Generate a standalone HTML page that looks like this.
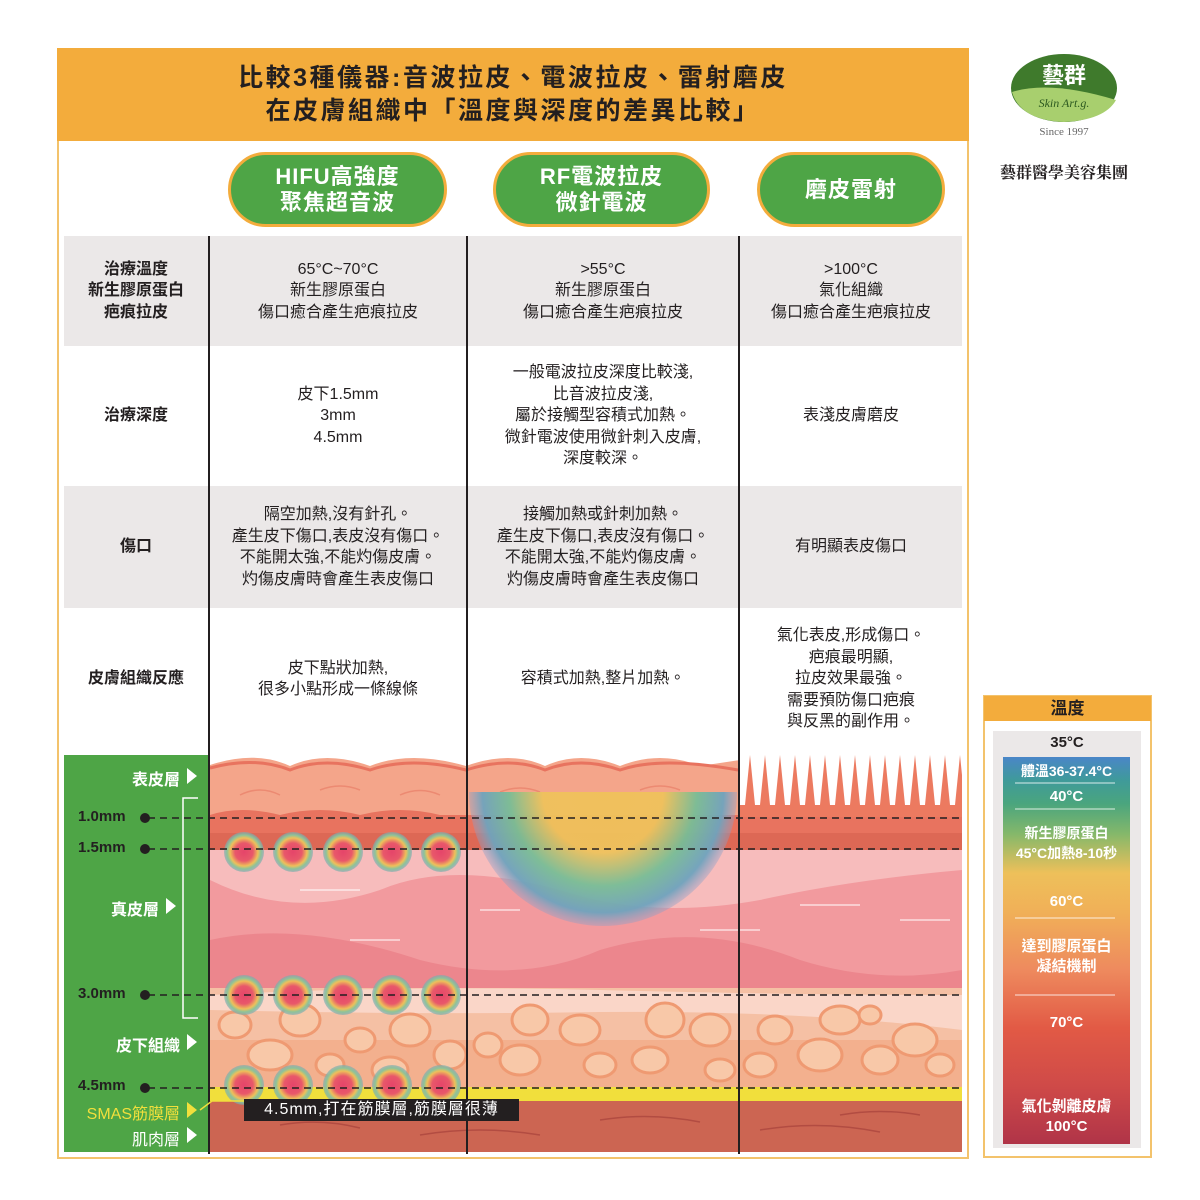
<!DOCTYPE html>
<html><head><meta charset="utf-8"><style>
*{margin:0;padding:0;box-sizing:border-box}
body{width:1200px;height:1200px;background:#fff;position:relative;overflow:hidden;font-family:"Liberation Sans","Noto Sans CJK TC",sans-serif;color:#231f20}
.a{position:absolute}
.c{text-align:center}
.t{font-size:16px;line-height:21.5px;display:flex;align-items:center;justify-content:center;text-align:center}
.lbl{font-weight:bold;font-size:16px;line-height:21.5px}
.pill{position:absolute;background:#4ea546;border:3px solid #f3ac3c;border-radius:40px;color:#fff;font-weight:bold;font-size:22px;line-height:26px;display:flex;align-items:center;justify-content:center;text-align:center;letter-spacing:1px}
.gl{color:#fff;font-weight:bold;font-size:16px;right:1020px;text-align:right;white-space:nowrap}
.mm{color:#231f20;font-size:15px;font-weight:bold;left:78px}
.tw{color:#fff;font-weight:bold;font-size:15px;line-height:20px;width:127px;left:1003px;text-align:center}
</style></head><body>
<div class="a" style="left:57px;top:48px;width:912px;height:1111px;border:2px solid #f3c36c"></div>
<div class="a" style="left:57px;top:48px;width:912px;height:93px;background:#f3ac3c"></div>
<div class="a c" style="left:57px;top:62px;width:912px;font-size:25px;font-weight:bold;line-height:33px;letter-spacing:2.5px">比較3種儀器:音波拉皮、電波拉皮、雷射磨皮<br>在皮膚組織中「溫度與深度的差異比較」</div>

<div class="pill" style="left:228px;top:152px;width:219px;height:75px">HIFU高強度<br>聚焦超音波</div>
<div class="pill" style="left:493px;top:152px;width:217px;height:75px">RF電波拉皮<br>微針電波</div>
<div class="pill" style="left:757px;top:152px;width:188px;height:75px">磨皮雷射</div>

<div class="a" style="left:64px;top:236px;width:898px;height:110px;background:#ebe8e8"></div>
<div class="a" style="left:64px;top:486px;width:898px;height:122px;background:#ebe8e8"></div>
<div class="a" style="left:208px;top:236px;width:2px;height:918px;background:#231f20"></div>
<div class="a" style="left:466px;top:236px;width:2px;height:918px;background:#231f20"></div>
<div class="a" style="left:738px;top:236px;width:2px;height:918px;background:#231f20"></div>

<div class="a t lbl" style="left:64px;top:236px;width:144px;height:110px">治療溫度<br>新生膠原蛋白<br>疤痕拉皮</div>
<div class="a t" style="left:210px;top:236px;width:256px;height:110px">65°C~70°C<br>新生膠原蛋白<br>傷口癒合產生疤痕拉皮</div>
<div class="a t" style="left:468px;top:236px;width:270px;height:110px">&gt;55°C<br>新生膠原蛋白<br>傷口癒合產生疤痕拉皮</div>
<div class="a t" style="left:740px;top:236px;width:222px;height:110px">&gt;100°C<br>氣化組織<br>傷口癒合產生疤痕拉皮</div>
<div class="a t lbl" style="left:64px;top:346px;width:144px;height:140px">治療深度</div>
<div class="a t" style="left:210px;top:346px;width:256px;height:140px">皮下1.5mm<br>3mm<br>4.5mm</div>
<div class="a t" style="left:468px;top:346px;width:270px;height:140px">一般電波拉皮深度比較淺,<br>比音波拉皮淺,<br>屬於接觸型容積式加熱。<br>微針電波使用微針刺入皮膚,<br>深度較深。</div>
<div class="a t" style="left:740px;top:346px;width:222px;height:140px">表淺皮膚磨皮</div>
<div class="a t lbl" style="left:64px;top:486px;width:144px;height:122px">傷口</div>
<div class="a t" style="left:210px;top:486px;width:256px;height:122px;white-space:nowrap">隔空加熱,沒有針孔。<br>產生皮下傷口,表皮沒有傷口。<br>不能開太強,不能灼傷皮膚。<br>灼傷皮膚時會產生表皮傷口</div>
<div class="a t" style="left:468px;top:486px;width:270px;height:122px;white-space:nowrap">接觸加熱或針刺加熱。<br>產生皮下傷口,表皮沒有傷口。<br>不能開太強,不能灼傷皮膚。<br>灼傷皮膚時會產生表皮傷口</div>
<div class="a t" style="left:740px;top:486px;width:222px;height:122px">有明顯表皮傷口</div>
<div class="a t lbl" style="left:64px;top:608px;width:144px;height:142px">皮膚組織反應</div>
<div class="a t" style="left:210px;top:608px;width:256px;height:142px">皮下點狀加熱,<br>很多小點形成一條線條</div>
<div class="a t" style="left:468px;top:608px;width:270px;height:142px">容積式加熱,整片加熱。</div>
<div class="a t" style="left:740px;top:608px;width:222px;height:142px">氣化表皮,形成傷口。<br>疤痕最明顯,<br>拉皮效果最強。<br>需要預防傷口疤痕<br>與反黑的副作用。</div>

<svg class="a" style="left:0;top:0" width="1200" height="1200">
<defs>
<radialGradient id="hs"><stop offset="0" stop-color="#e5456a"/><stop offset="0.45" stop-color="#e8586a"/><stop offset="0.7" stop-color="#eec05a"/><stop offset="0.85" stop-color="#8cc39a"/><stop offset="1" stop-color="#7aaab0" stop-opacity="0.6"/></radialGradient>
<radialGradient id="rf" gradientUnits="userSpaceOnUse" cx="603" cy="792" r="134"><stop offset="0" stop-color="#f0c15a"/><stop offset="0.45" stop-color="#efc25c"/><stop offset="0.7" stop-color="#78bd96"/><stop offset="0.9" stop-color="#6fa3bd"/><stop offset="1" stop-color="#8aa0c8" stop-opacity="0.4"/></radialGradient>
<linearGradient id="tb" x1="0" y1="0" x2="0" y2="1"><stop offset="0" stop-color="#4a86c8"/><stop offset="0.06" stop-color="#3f9a9a"/><stop offset="0.12" stop-color="#4aa57e"/><stop offset="0.2" stop-color="#86b86a"/><stop offset="0.3" stop-color="#eec05a"/><stop offset="0.4" stop-color="#f0b058"/><stop offset="0.55" stop-color="#ee8a5e"/><stop offset="0.7" stop-color="#e25a45"/><stop offset="0.85" stop-color="#cf4a48"/><stop offset="1" stop-color="#b03448"/></linearGradient>
<clipPath id="sk"><rect x="210" y="755" width="752" height="397"/></clipPath>
<clipPath id="rfc"><rect x="468" y="792" width="270" height="200"/></clipPath>
</defs>
<rect x="64" y="755" width="145" height="397" fill="#4ea546"/>
<g clip-path="url(#sk)">
<rect x="210" y="755" width="752" height="397" fill="#f4a58a"/>
<path d="M210 765 Q255 750 290 766 Q325 750 370 766 Q410 750 466 766 Q510 750 545 766 Q580 750 620 766 Q660 750 700 766 L740 760 L740 755 L210 755Z" fill="#fff"/>
<path d="M210 768 Q255 756 290 770 Q325 756 370 770 Q410 756 466 770 Q510 756 545 770 Q580 756 620 770 Q660 756 738 770" fill="none" stroke="#e8735f" stroke-width="3"/>
<g stroke="#ec8a72" stroke-width="1.5" fill="none"><path d="M240 795 Q260 785 280 795"/><path d="M320 790 Q340 782 360 790"/><path d="M400 795 Q420 786 440 795"/><path d="M500 792 Q520 784 540 792"/><path d="M640 790 Q660 782 680 790"/></g>
<path d="M210 815 Q240 805 280 815 Q320 805 360 815 Q400 805 440 815 L962 815 L962 835 L210 835Z" fill="#e8735f"/>
<rect x="210" y="833" width="752" height="17" fill="#dd6855"/>
<rect x="210" y="850" width="752" height="145" fill="#f29a9e"/>
<path d="M210 850 L962 850 L962 870 Q850 880 760 900 Q650 920 560 890 Q450 860 380 890 Q290 920 210 880Z" fill="#f7bcbc"/>
<path d="M210 940 Q300 920 420 960 Q520 985 600 950 Q700 920 800 960 Q880 985 962 970 L962 995 L210 995Z" fill="#ec868d"/>
<rect x="210" y="988" width="752" height="100" fill="#f5c0a4"/>
<path d="M210 995 Q400 985 600 990 Q800 995 962 995 L962 1030 Q800 1010 600 1012 Q400 1015 210 1010Z" fill="#fad6c8"/>
<rect x="210" y="1040" width="752" height="48" fill="#f3b08e"/>
<g fill="#f8c8a8" stroke="#ef9a72" stroke-width="3">
<ellipse cx="235" cy="1025" rx="16" ry="13"/><ellipse cx="300" cy="1020" rx="20" ry="16"/><ellipse cx="360" cy="1040" rx="15" ry="12"/><ellipse cx="410" cy="1030" rx="20" ry="16"/><ellipse cx="270" cy="1055" rx="22" ry="15"/><ellipse cx="330" cy="1065" rx="14" ry="11"/><ellipse cx="390" cy="1070" rx="18" ry="13"/><ellipse cx="450" cy="1055" rx="16" ry="14"/>
<ellipse cx="530" cy="1020" rx="18" ry="15"/><ellipse cx="580" cy="1030" rx="20" ry="15"/><ellipse cx="665" cy="1020" rx="19" ry="17"/><ellipse cx="710" cy="1030" rx="20" ry="16"/><ellipse cx="520" cy="1060" rx="20" ry="15"/><ellipse cx="600" cy="1065" rx="16" ry="12"/><ellipse cx="650" cy="1060" rx="18" ry="13"/><ellipse cx="720" cy="1070" rx="15" ry="11"/><ellipse cx="488" cy="1045" rx="14" ry="12"/>
<ellipse cx="775" cy="1030" rx="17" ry="14"/><ellipse cx="840" cy="1020" rx="20" ry="14"/><ellipse cx="870" cy="1015" rx="11" ry="9"/><ellipse cx="915" cy="1040" rx="22" ry="16"/><ellipse cx="760" cy="1065" rx="16" ry="12"/><ellipse cx="820" cy="1055" rx="22" ry="16"/><ellipse cx="880" cy="1060" rx="18" ry="14"/><ellipse cx="940" cy="1065" rx="14" ry="11"/>
</g>
<rect x="210" y="1087" width="752" height="14" fill="#f1df3c"/>
<rect x="210" y="1101" width="752" height="51" fill="#cc6552"/>
<g stroke="#b24c42" stroke-width="1.5" fill="none"><path d="M280 1125 Q320 1118 360 1128"/><path d="M420 1135 Q480 1125 540 1135"/><path d="M600 1120 Q650 1112 700 1122"/><path d="M760 1130 Q820 1120 880 1132"/><path d="M840 1115 Q880 1108 920 1115"/></g>
<g stroke="#fff" stroke-opacity="0.5" stroke-width="2" fill="none"><path d="M300 890 L360 890"/><path d="M480 910 L520 910"/><path d="M800 905 L860 905"/><path d="M900 920 L950 920"/><path d="M350 940 L400 940"/><path d="M700 930 L760 930"/></g>
<g clip-path="url(#rfc)"><circle cx="603" cy="792" r="134" fill="url(#rf)" opacity="0.95"/></g>
<rect x="740" y="755" width="222" height="60" fill="#fff"/>
<g fill="#ec7a60">
<polygon points="744,815 750,755 756,815"/><polygon points="759,815 765,755 771,815"/><polygon points="774,815 780,755 786,815"/><polygon points="789,815 795,755 801,815"/><polygon points="804,815 810,755 816,815"/><polygon points="819,815 825,755 831,815"/><polygon points="834,815 840,755 846,815"/><polygon points="849,815 855,755 861,815"/><polygon points="864,815 870,755 876,815"/><polygon points="879,815 885,755 891,815"/><polygon points="894,815 900,755 906,815"/><polygon points="909,815 915,755 921,815"/><polygon points="924,815 930,755 936,815"/><polygon points="939,815 945,755 951,815"/><polygon points="954,815 960,755 966,815"/>
</g>
<rect x="740" y="805" width="222" height="12" fill="#ec7a60"/>
<g fill="url(#hs)">
<circle cx="244" cy="852" r="20"/><circle cx="293" cy="852" r="20"/><circle cx="343" cy="852" r="20"/><circle cx="392" cy="852" r="20"/><circle cx="441" cy="852" r="20"/>
<circle cx="244" cy="995" r="20"/><circle cx="293" cy="995" r="20"/><circle cx="343" cy="995" r="20"/><circle cx="392" cy="995" r="20"/><circle cx="441" cy="995" r="20"/>
<circle cx="244" cy="1085" r="20"/><circle cx="293" cy="1085" r="20"/><circle cx="343" cy="1085" r="20"/><circle cx="392" cy="1085" r="20"/><circle cx="441" cy="1085" r="20"/>
</g>
</g>
<rect x="208" y="755" width="2" height="397" fill="#231f20"/><rect x="466" y="755" width="2" height="397" fill="#231f20"/><rect x="738" y="755" width="2" height="397" fill="#231f20"/>
<g stroke="#231f20" stroke-width="1.5" stroke-dasharray="7 5">
<line x1="148" y1="818" x2="962" y2="818"/><line x1="148" y1="849" x2="962" y2="849"/><line x1="148" y1="995" x2="962" y2="995"/><line x1="148" y1="1088" x2="962" y2="1088"/>
</g>
<g fill="#231f20"><circle cx="145" cy="818" r="5"/><circle cx="145" cy="849" r="5"/><circle cx="145" cy="995" r="5"/><circle cx="145" cy="1088" r="5"/></g>
<path d="M198 798 L183 798 L183 1018 L198 1018" fill="none" stroke="#fff" stroke-width="1.5"/>
<g fill="#fff"><polygon points="187,768 197,776 187,784"/><polygon points="166,898 176,906 166,914"/><polygon points="187,1034 197,1042 187,1050"/><polygon points="187,1127 197,1135 187,1143"/></g>
<polygon points="187,1102 197,1110 187,1118" fill="#f1df3c"/>
<path d="M200 1110 L212 1101 L245 1101" fill="none" stroke="#f1df3c" stroke-width="1.5"/>
<rect x="984" y="696" width="167" height="461" fill="none" stroke="#f3c36c" stroke-width="2"/>
<rect x="984" y="696" width="167" height="25" fill="#f3ac3c"/>
<rect x="993" y="731" width="148" height="417" fill="#ebe8e8"/>
<rect x="1003" y="757" width="127" height="387" fill="url(#tb)"/>
<g stroke="#fff" stroke-opacity="0.8" stroke-width="1"><line x1="1015" y1="783" x2="1115" y2="783"/><line x1="1015" y1="809" x2="1115" y2="809"/><line x1="1015" y1="918" x2="1115" y2="918"/><line x1="1015" y1="995" x2="1115" y2="995"/></g>
<ellipse cx="1064" cy="88" rx="53" ry="34" fill="#3f7a2c"/>
<path d="M1012 92 Q1050 80 1116 100 Q1105 120 1064 122 Q1020 120 1012 92Z" fill="#a8cf6e"/>
</svg>

<div class="a gl" style="top:766px">表皮層</div>
<div class="a gl" style="top:896px;right:1041px">真皮層</div>
<div class="a gl" style="top:1032px">皮下組織</div>
<div class="a gl" style="top:1100px;color:#f1df3c;font-weight:normal">SMAS筋膜層</div>
<div class="a gl" style="top:1126px;font-weight:normal">肌肉層</div>
<div class="a mm" style="top:808px">1.0mm</div>
<div class="a mm" style="top:839px">1.5mm</div>
<div class="a mm" style="top:985px">3.0mm</div>
<div class="a mm" style="top:1077px">4.5mm</div>
<div class="a" style="left:244px;top:1099px;width:275px;height:22px;background:#231f20;color:#fff;font-size:16px;line-height:22px;text-align:center;letter-spacing:1px">4.5mm,打在筋膜層,筋膜層很薄</div>

<div class="a c" style="left:984px;top:697px;width:167px;font-weight:bold;font-size:17px;line-height:24px">溫度</div>
<div class="a c" style="left:993px;top:734px;width:148px;font-weight:bold;font-size:15px">35°C</div>
<div class="a tw" style="top:761px;font-size:14px">體溫36-37.4°C</div>
<div class="a tw" style="top:787px">40°C</div>
<div class="a tw" style="top:823px;font-size:14px">新生膠原蛋白<br>45°C加熱8-10秒</div>
<div class="a tw" style="top:892px">60°C</div>
<div class="a tw" style="top:937px">達到膠原蛋白<br>凝結機制</div>
<div class="a tw" style="top:1013px">70°C</div>
<div class="a tw" style="top:1097px">氣化剝離皮膚<br>100°C</div>

<div class="a c" style="left:1014px;top:63px;width:100px;color:#fff;font-weight:bold;font-size:22px;line-height:26px">藝群</div>
<div class="a c" style="left:1014px;top:96px;width:100px;color:#2d5a20;font-style:italic;font-family:'Liberation Serif',serif;font-size:12px">Skin Art.g.</div>
<div class="a c" style="left:1014px;top:126px;width:100px;color:#666;font-family:'Liberation Serif',serif;font-size:11px">Since 1997</div>
<div class="a c" style="left:984px;top:160px;width:160px;font-weight:bold;font-size:16px;font-family:'Liberation Serif','Noto Serif CJK SC',serif">藝群醫學美容集團</div>
</body></html>
